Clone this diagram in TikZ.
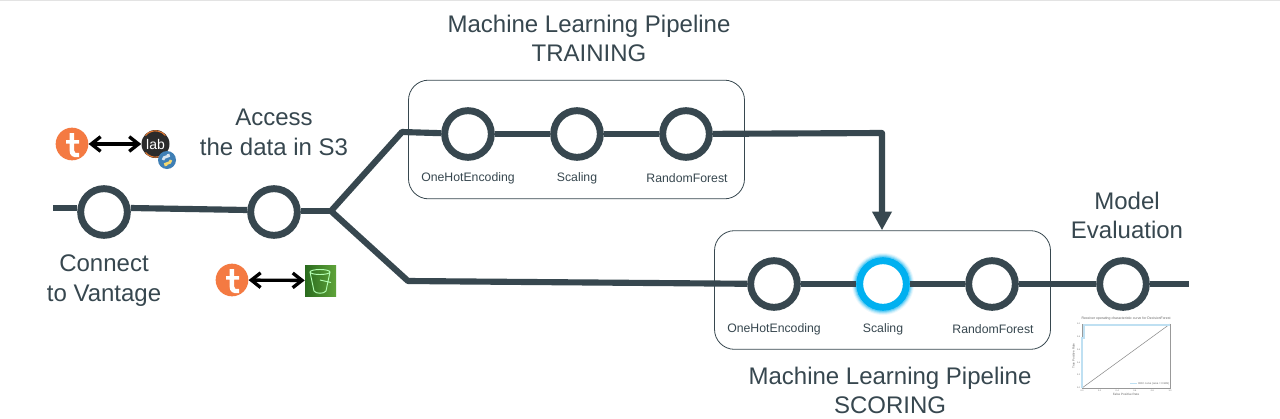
\documentclass[tikz,border=0pt]{standalone}
\usepackage{fontspec}
\setmainfont{Liberation Sans}
\usetikzlibrary{arrows.meta}
\definecolor{slate}{HTML}{37474F}
\definecolor{cyanring}{HTML}{00B0F0}
\definecolor{tealorange}{HTML}{F47A42}
\definecolor{labdark}{HTML}{2B2B2B}
\definecolor{labor}{HTML}{E2762E}
\definecolor{pyblue}{HTML}{3F7FB5}
\definecolor{pyyel}{HTML}{F5D76E}
\definecolor{rocblue}{HTML}{BFE0F2}
\definecolor{bucketa}{HTML}{2A6B1E}
\definecolor{bucketb}{HTML}{5FA43A}
\definecolor{topline}{HTML}{E3E3E3}
\tikzset{
  x=0.75pt,y=-0.75pt,
  wire/.style={draw=slate,line width=4.6pt,line cap=butt,line join=round},
  stepnode/.style={circle,draw=slate,fill=white,line width=5.2pt,minimum size=35pt,inner sep=0pt},
  hotnode/.style={circle,draw=cyanring,fill=white,line width=5.2pt,minimum size=35pt,inner sep=0pt},
  group/.style={draw=slate,line width=0.6pt,rounded corners=15pt,fill=white},
  small/.style={font=\fontsize{9.2}{11}\selectfont,text=slate,inner sep=0pt},
  big/.style={font=\fontsize{18}{22}\selectfont,text=slate,align=center,inner sep=0pt},
  link/.style={draw=black,line width=2.5pt,{Straight Barb[length=7pt,width=11pt]}-{Straight Barb[length=7pt,width=11pt]}},
  logot/.style={circle,fill=tealorange,minimum size=24.5pt,inner sep=0pt},
  tick/.style={font=\fontsize{1.6}{2}\selectfont,text=black!60,inner sep=0pt}
}
\begin{document}
\begin{tikzpicture}
\useasboundingbox (0,0) rectangle (1280,418);
\fill[white] (0,0) rectangle (1280,418);
\fill[topline] (0,0) rectangle (1280,1.2);
% group boxes
\node[group,minimum width=252pt,minimum height=89pt,inner sep=0pt] (trainbox) at (576.5,139.5) {};
\node[group,minimum width=252pt,minimum height=89pt,inner sep=0pt] (scorebox) at (882.5,290) {};
% junctions
\coordinate (start) at (53,208);
\coordinate (fork) at (331,211);
\coordinate (upbend) at (402,132);
\coordinate (lowbend) at (408,281);
\coordinate (finish) at (1189,284);
\coordinate (corner) at (882,133);
% nodes
\node[stepnode] (connect) at (104,212) {};
\node[stepnode] (access) at (274,212) {};
\node[stepnode] (t1) at (468,134) {};
\node[stepnode] (t2) at (577,134) {};
\node[stepnode] (t3) at (686,134) {};
\node[stepnode] (s1) at (774,284) {};
\node[stepnode] (s3) at (992,284) {};
\node[stepnode] (evalnode) at (1123,284) {};
% glow
\foreach \r/\o in {31/0.08,30/0.14,29/0.22,28/0.32}{\fill[cyanring,opacity=\o] (883,284) circle[radius=\r];}
\node[hotnode] (s2) at (883,284) {};
% connectors
\draw[wire] (start) -- ([yshift=3pt]connect.west);
\draw[wire] ([yshift=3pt]connect.east) -- ([yshift=1.5pt]access.west);
\draw[wire] ([yshift=0.75pt]access.east) -- (fork);
\draw[wire] (fork) -- (upbend) -- (t1);
\draw[wire] (fork) -- (lowbend) -- (s1);
\draw[wire] (t1) -- (t2);
\draw[wire] (t2) -- (t3);
\draw[wire] (s1) -- (s2);
\draw[wire] (s2) -- (s3);
\draw[wire] (s3) -- (evalnode);
\draw[wire] (evalnode) -- (finish);
\draw[wire,-{Triangle[length=14pt,width=14pt]}] (t3) -- (corner) -- (scorebox.north -| corner);
% labels
\node[small] at (468,178) {OneHotEncoding};
\node[small] at (577,178) {Scaling};
\node[small] at (687,178) {RandomForest};
\node[small] at (774,329) {OneHotEncoding};
\node[small] at (883,329) {Scaling};
\node[small] at (993,329) {RandomForest};
\node[big] at (589,38.5) {Machine Learning Pipeline\\TRAINING};
\node[big] at (890,390.5) {Machine Learning Pipeline\\SCORING};
\node[big] at (274,132.5) {Access\\the data in S3};
\node[big] at (104,280.5) {Connect\\to Vantage};
\node[big] at (1127,215.5) {Model\\Evaluation};
% logo: t + lab
\node[logot] (tlogoa) at (72,144) {};
\fill[white] (69.5,133) -- (74,133) -- (74,140) -- (79,140) -- (79,143.5) -- (74,143.5) -- (74,150) .. controls (74,153) and (76,153.5) .. (79,153) -- (79,157) .. controls (73,158) and (69.5,156) .. (69.5,150) -- (69.5,143.5) -- (66,143.5) -- (66,140) -- (69.5,140) -- cycle;
\node[circle,fill=labdark,minimum size=21pt,inner sep=0pt] (lablogo) at (155.5,144) {};
\draw[labor,line width=0.8pt] (145.5,135.5) arc[start angle=220,end angle=320,radius=13];
\draw[labor,line width=0.8pt] (145.5,152.5) arc[start angle=140,end angle=40,radius=13];
\node[font=\fontsize{10.5}{11}\selectfont,text=white,inner sep=0pt] at (155.5,144) {lab};
\fill[pyblue] (167,160) circle[radius=9];
\draw[white!80!pyblue,line width=2pt] (163,160) .. controls (163,155) and (171,158) .. (168,154);
\draw[pyyel,line width=2pt] (171,160) .. controls (171,165) and (163,162) .. (166,166);
\draw[link] (tlogoa) -- (lablogo);
% logo: t + bucket
\node[logot] (tlogob) at (232,280) {};
\fill[white] (229.5,269) -- (234,269) -- (234,276) -- (239,276) -- (239,279.5) -- (234,279.5) -- (234,286) .. controls (234,289) and (236,289.5) .. (239,289) -- (239,293) .. controls (233,294) and (229.5,292) .. (229.5,286) -- (229.5,279.5) -- (226,279.5) -- (226,276) -- (229.5,276) -- cycle;
\node[minimum size=23.25pt,inner sep=0pt,shade,shading angle=45,left color=bucketa,right color=bucketb] (bucket) at (320.5,280.5) {};
\draw[white!70!green,line width=0.7pt] (320,272) ellipse[x radius=10,y radius=2.5] (310,272) -- (314,291) .. controls (316,294) and (324,294) .. (326,291) -- (330,272) (320,280) -- (331,282.5);
\draw[link] (tlogob) -- (bucket);
% ROC chart
\draw[black!40,line width=0.25pt] (1082,324) rectangle (1170,388);
\draw[black!45,line width=0.4pt] (1082,388) -- (1170,324);
\draw[rocblue,line width=1pt] (1082,388) -- (1082,338) -- (1084,338) -- (1084,325) -- (1170,325);
\draw[rocblue,line width=0.7pt] (1130,383.5) -- (1137,383.5);
\node[font=\fontsize{2.6}{3}\selectfont,text=black!60,inner sep=0pt] at (1126,319) {Receiver operating characteristic curve for DecisionForest};
\node[font=\fontsize{2.3}{3}\selectfont,text=black!60,inner sep=0pt] at (1126,394.5) {False Positive Rate};
\node[font=\fontsize{2.3}{3}\selectfont,text=black!60,inner sep=0pt,rotate=90] at (1073.5,356) {True Positive Rate};
\node[font=\fontsize{2}{3}\selectfont,text=black!60,inner sep=0pt,anchor=west] at (1138,383.5) {ROC curve (area = 0.999)};
\foreach \v/\p in {0.0/1082,0.2/1099.6,0.4/1117.2,0.6/1134.8,0.8/1152.4,1.0/1170}{\node[tick] at (\p,390.5) {\v};}
\foreach \v/\p in {0.0/388,0.2/375.2,0.4/362.4,0.6/349.6,0.8/336.8,1.0/324}{\node[tick] at (1078.5,\p) {\v};}
\end{tikzpicture}
\end{document}
